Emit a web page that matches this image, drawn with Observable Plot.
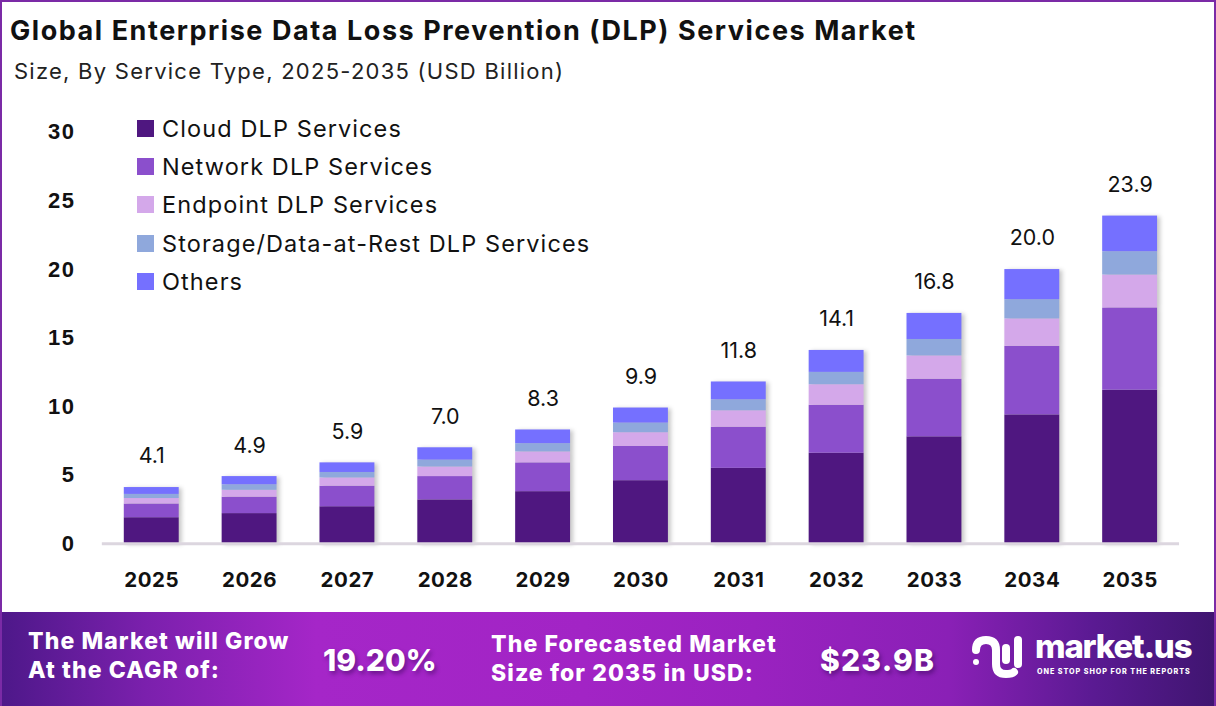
<!DOCTYPE html>
<html>
<head>
<meta charset="utf-8">
<script src="https://cdn.jsdelivr.net/npm/d3@7"></script>
<script src="https://cdn.jsdelivr.net/npm/@observablehq/plot@0.6"></script>
<style>
  html, body { margin: 0; padding: 0; background: #fff; }
  #frame {
    position: relative; width: 1216px; height: 706px; box-sizing: border-box;
    border: 2px solid #7b2aa6; border-bottom: none; overflow: hidden;
    font-family: "Inter", "Noto Sans", sans-serif; color: #111;
  }
  #title { position: absolute; left: 8px; top: 12px; font-size: 27px; font-weight: 700; letter-spacing: 1.55px; white-space: nowrap; }
  #subtitle { position: absolute; left: 12px; top: 56px; font-size: 22px; font-weight: 400; color: #222; letter-spacing: 1.25px; white-space: nowrap; }
  #chart { position: absolute; left: -2px; top: 98px; }
  #legend { position: absolute; left: 135px; top: 107px; font-size: 23.5px; color: #111; letter-spacing: 1.1px; }
  #legend .row { display: flex; align-items: center; height: 38.3px; white-space: nowrap; }
  #legend .sw { width: 17px; height: 17px; margin-right: 8px; }
  #footer {
    position: absolute; left: -2px; top: 610px; width: 1216px; height: 96px;
    background: linear-gradient(90deg, #4d1889 0%, #7b20ad 12%, #a526c8 26%, #a224c5 48%, #9a22c0 62%, #8a20b6 78%, #5a1a92 90%, #3f1570 100%);
    color: #fff; font-weight: 800;
  }
  #footer .t { position: absolute; font-size: 23px; line-height: 29px; letter-spacing: 1.1px; white-space: nowrap; }
  #footer .big { position: absolute; font-size: 30px; letter-spacing: 0px; text-shadow: 2px 3px 4px rgba(40,0,70,0.45); white-space: nowrap; }
  #brand { position: absolute; left: 1035px; top: 14px; font-size: 33px; font-weight: 800; letter-spacing: -1.2px; }
  #tag { position: absolute; left: 1037px; top: 55px; font-size: 7.2px; font-weight: 800; letter-spacing: 0.95px; white-space: nowrap; }
</style>
</head>
<body>
<div id="frame">
  <div id="title">Global Enterprise Data Loss Prevention (DLP) Services Market</div>
  <div id="subtitle">Size, By Service Type, 2025-2035 (USD Billion)</div>
  <div id="chart"></div>
  <div id="legend"></div>
  <div id="footer">
    <div class="t" style="left:28px; top:15px;">The Market will Grow<br>At the CAGR of:</div>
    <div class="big" style="left:323px; top:30px;">19.20%</div>
    <div class="t" style="left:491px; top:18px;">The Forecasted Market<br>Size for 2035 in USD:</div>
    <div class="big" style="left:820px; top:30px; letter-spacing:1.2px;">$23.9B</div>
    <svg style="position:absolute; left:968px; top:22px;" width="60" height="50" viewBox="0 0 60 50">
      <g fill="none" stroke="#fff" stroke-width="8" stroke-linecap="round">
        <circle cx="8" cy="28" r="3" fill="#fff" stroke="none"/>
        <path d="M8 16 Q8 6 18 6 Q28 6 28 16 L28 30 Q28 40 38 40 Q44 40 46 38"/>
        <path d="M38 14 L38 26"/>
        <path d="M50 6 L50 30"/>
      </g>
    </svg>
    <div id="brand">market.us</div>
    <div id="tag">ONE STOP SHOP FOR THE REPORTS</div>
  </div>
</div>
<script>
// Market size by service type, USD billion
const years = ["2025","2026","2027","2028","2029","2030","2031","2032","2033","2034","2035"];
const segments = ["Cloud DLP Services","Network DLP Services","Endpoint DLP Services","Storage/Data-at-Rest DLP Services","Others"];
const segmentColors = ["#4f1780","#8b4fcc","#d4a8ea","#8fa8dc","#7570ff"];
const cloud    = [1.9, 2.2, 2.7, 3.2, 3.8, 4.6, 5.5, 6.6, 7.8, 9.4, 11.2];
const network  = [1.0, 1.2, 1.5, 1.7, 2.1, 2.5, 3.0, 3.5, 4.2, 5.0, 6.0];
const endpoint = [0.4, 0.5, 0.6, 0.7, 0.8, 1.0, 1.2, 1.5, 1.7, 2.0, 2.4];
const storage  = [0.3, 0.4, 0.4, 0.5, 0.6, 0.7, 0.8, 0.9, 1.2, 1.4, 1.7];
const others   = [0.5, 0.6, 0.7, 0.9, 1.0, 1.1, 1.3, 1.6, 1.9, 2.2, 2.6];
const totals   = [4.1, 4.9, 5.9, 7.0, 8.3, 9.9, 11.8, 14.1, 16.8, 20.0, 23.9];
const yTicks   = [0, 5, 10, 15, 20, 25, 30];

const seriesValues = [cloud, network, endpoint, storage, others];
const rows = [];
years.forEach((yr, i) => {
  segments.forEach((seg, k) => rows.push({year: yr, segment: seg, value: seriesValues[k][i]}));
});
const totalRows = years.map((yr, i) => ({year: yr, total: totals[i]}));

const chart = Plot.plot({
  width: 1216,
  height: 500,
  marginLeft: 102,
  marginRight: 35,
  marginTop: 32,
  marginBottom: 56,
  style: {fontFamily: "Liberation Sans, Arial, sans-serif", overflow: "visible"},
  x: {domain: years, paddingInner: 0.44, paddingOuter: 0.22, label: null},
  y: {domain: [0, 30], label: null},
  color: {domain: segments, range: segmentColors},
  marks: [
    Plot.barY(rows, {x: "year", y: "value", fill: "segment", order: segments}),
    Plot.ruleY([0], {stroke: "#dcd6df", strokeWidth: 3}),
    Plot.text(totalRows, {x: "year", y: "total", text: d => d.total.toFixed(1), dy: -31,
      fontSize: 21.5, fill: "#111", fontFamily: "Inter, Noto Sans, sans-serif"}),
    Plot.axisY({ticks: yTicks, tickSize: 0, tickPadding: 27, fontSize: 22, fontWeight: "bold", fill: "#111", label: null}),
    Plot.axisX({tickSize: 0, tickPadding: 29, fontSize: 20.5, fontWeight: "bold", fill: "#111", label: null,
      fontFamily: "Inter, Noto Sans, sans-serif"})
  ]
});
// soft shadow on the bars
d3.select(chart).select("g[aria-label='bar']").style("filter", "drop-shadow(3px 1px 2px rgba(0,0,0,0.22))");
d3.select(chart).selectAll("g[aria-label='x-axis tick label'] text").style("letter-spacing", "0.6px");
d3.select(chart).selectAll("g[aria-label='y-axis tick label'] text").style("letter-spacing", "1.5px");
document.getElementById("chart").appendChild(chart);

const legend = d3.select("#legend");
segments.forEach((seg, k) => {
  const row = legend.append("div").attr("class", "row");
  row.append("div").attr("class", "sw").style("background", segmentColors[k]);
  row.append("div").text(seg);
});
</script>
</body>
</html>
